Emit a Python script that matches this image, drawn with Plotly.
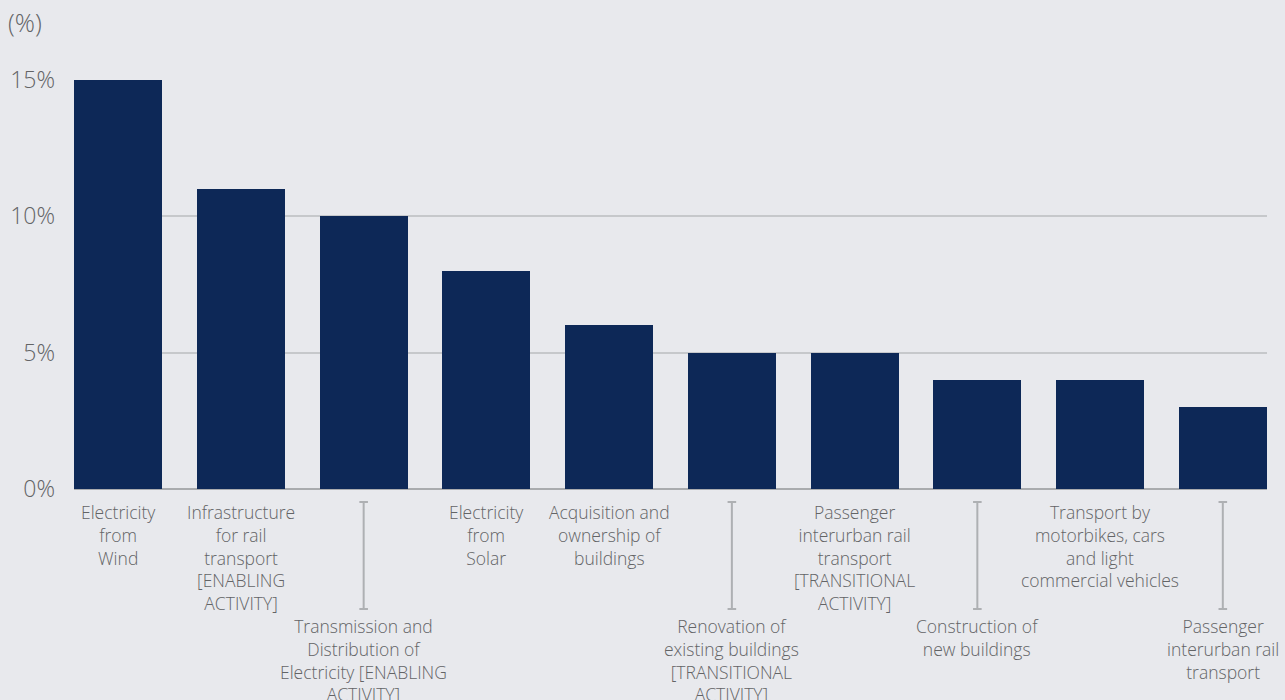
import plotly.graph_objects as go

categories = [
    "Electricity<br>from<br>Wind",
    "Infrastructure<br>for rail<br>transport<br>[ENABLING<br>ACTIVITY]",
    "Transmission and<br>Distribution of<br>Electricity [ENABLING<br>ACTIVITY]",
    "Electricity<br>from<br>Solar",
    "Acquisition and<br>ownership of<br>buildings",
    "Renovation of<br>existing buildings<br>[TRANSITIONAL<br>ACTIVITY]",
    "Passenger<br>interurban rail<br>transport<br>[TRANSITIONAL<br>ACTIVITY]",
    "Construction of<br>new buildings",
    "Transport by<br>motorbikes, cars<br>and light<br>commercial vehicles",
    "Passenger<br>interurban rail<br>transport",
]
values = [15, 11, 10, 8, 6, 5, 5, 4, 4, 3]
staggered = [False, False, True, False, False, True, False, True, False, True]
y_ticks = [0, 5, 10, 15]
y_tick_labels = ["0%", "5%", "10%", "15%"]

FONT = "Open Sans, Noto Sans, sans-serif"
TXT = "#636466"
BAR = "#0d2857"
BG = "#e8e9ed"

x = list(range(len(categories)))
fig = go.Figure(go.Bar(x=x, y=values, width=0.717, marker_color=BAR,
                       marker_line_width=0, hoverinfo="skip"))

plot_h = 409.0
def py(px_below):
    return -px_below / plot_h

annotations = []
shapes = []
for i, (lab, stg) in enumerate(zip(categories, staggered)):
    shift = 114 if stg else 0
    annotations.append(dict(
        x=i, xref="x", y=0, yref="paper", yanchor="top", xanchor="center",
        yshift=-(9 + shift), text=lab, showarrow=False, align="center",
        font=dict(family=FONT, size=17.5, color=TXT, weight=300)))
    if stg:
        shapes.append(dict(type="line", xref="x", yref="paper", x0=i, x1=i,
                           y0=py(13), y1=py(120), line=dict(color="#aeb0b3", width=2)))
        for yy in (13, 120):
            shapes.append(dict(type="line", xref="x", yref="paper", x0=i - 0.035, x1=i + 0.035,
                               y0=py(yy), y1=py(yy), line=dict(color="#aeb0b3", width=2)))

annotations.append(dict(x=0, xref="paper", y=1, yref="paper", xshift=-68, yshift=58,
                        xanchor="left", yanchor="middle", text="(%)", showarrow=False,
                        font=dict(family=FONT, size=25, color=TXT, weight=300)))

fig.update_layout(
    width=1285, height=700,
    margin=dict(l=74, r=18, t=80, b=211, autoexpand=False),
    paper_bgcolor=BG, plot_bgcolor=BG,
    showlegend=False,
    bargap=0,
    xaxis=dict(range=[-0.36, 9.36], showticklabels=False, showgrid=False,
               zeroline=False, showline=False, ticks="", fixedrange=True,
               automargin=False),
    yaxis=dict(range=[0, 15], tickvals=y_ticks, ticktext=y_tick_labels,
               showgrid=True, gridcolor="#c6c8cb", gridwidth=1.5,
               zeroline=True, zerolinecolor="#a9abae", zerolinewidth=1.5,
               showline=False, ticks="", ticklabelstandoff=18, automargin=False,
               tickfont=dict(family=FONT, size=23, color=TXT, weight=300)),
    annotations=annotations,
    shapes=shapes,
)

fig.write_html("out.html")
